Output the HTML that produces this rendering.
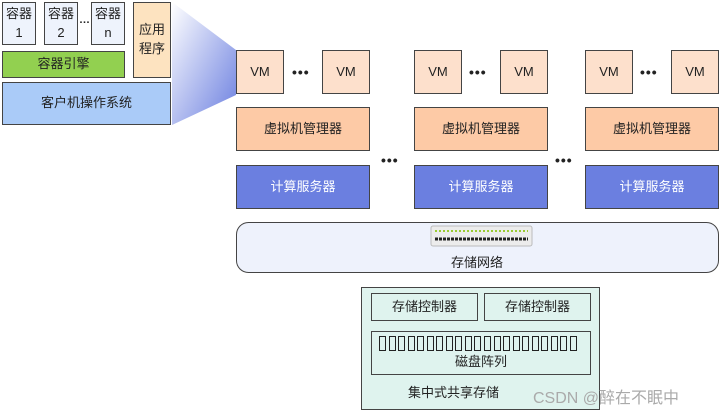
<!DOCTYPE html>
<html><head><meta charset="utf-8"><style>
body{margin:0;width:719px;height:410px;background:#fff;position:relative;overflow:hidden;font-family:"Liberation Sans","Noto Sans CJK SC",sans-serif;font-size:13px;color:#222}
.b{position:absolute;box-sizing:border-box;border:1px solid #444;display:flex;align-items:center;justify-content:center;text-align:center;line-height:1.45}
.vm{background:#fde0cc}.mg{background:#fdcaa6}.cs{background:#6b7fe0;color:#fff}
.dots{position:absolute;font-size:14px;font-weight:bold;letter-spacing:1px}
.row{position:absolute;left:379px;top:336px;width:198px;height:15px;display:flex;justify-content:space-between}
.row i{display:block;width:7px;height:15px;box-sizing:border-box;border:1px solid #222}
</style></head><body>
<div class="b" style="left:2px;top:2px;width:34px;height:43px;background:#eef3fc">容器<br>1</div>
<div class="b" style="left:44px;top:2px;width:34px;height:43px;background:#eef3fc">容器<br>2</div>
<div class="dots" style="left:79px;top:14px;font-size:11px">…</div>
<div class="b" style="left:91px;top:2px;width:34px;height:43px;background:#eef3fc">容器<br>n</div>
<div class="b" style="left:133px;top:2px;width:38px;height:76px;background:#fde3c0">应用<br>程序</div>
<div class="b" style="left:2px;top:51px;width:123px;height:27px;background:#92d050">容器引擎</div>
<div class="b" style="left:2px;top:82px;width:169px;height:43px;background:#aacbf8">客户机操作系统</div>
<svg style="position:absolute;left:0;top:0" width="719" height="410">
<defs><linearGradient id="g" x1="0" y1="0" x2="1" y2="1"><stop offset="0" stop-color="#fff"/><stop offset="1" stop-color="#6b7fe0"/></linearGradient></defs>
<polygon points="172,2 236,50 236,95 172,125" fill="url(#g)"/>
<rect x="236.5" y="222.5" width="482" height="50" rx="12" fill="#eef2fc" stroke="#444"/>
<rect x="431" y="226" width="101" height="20" rx="2" fill="#ececec" stroke="#bbb"/>
<line x1="435" y1="231" x2="528" y2="231" stroke="#9c3" stroke-dasharray="2,2" stroke-width="2"/>
<line x1="435" y1="239" x2="528" y2="239" stroke="#222" stroke-dasharray="3,1" stroke-width="3"/>
</svg>
<div class="b vm" style="left:236px;top:50px;width:48px;height:44px">VM</div>
<div class="b vm" style="left:322px;top:50px;width:48px;height:44px">VM</div>
<div class="b vm" style="left:414px;top:50px;width:48px;height:44px">VM</div>
<div class="b vm" style="left:500px;top:50px;width:48px;height:44px">VM</div>
<div class="b vm" style="left:585px;top:50px;width:48px;height:44px">VM</div>
<div class="b vm" style="left:671px;top:50px;width:48px;height:44px">VM</div>
<div class="dots" style="left:292px;top:64px">•••</div>
<div class="dots" style="left:469px;top:64px">•••</div>
<div class="dots" style="left:640px;top:64px">•••</div>
<div class="b mg" style="left:236px;top:107px;width:134px;height:44px">虚拟机管理器</div>
<div class="b mg" style="left:414px;top:107px;width:134px;height:44px">虚拟机管理器</div>
<div class="b mg" style="left:585px;top:107px;width:134px;height:44px">虚拟机管理器</div>
<div class="dots" style="left:381px;top:152px">•••</div>
<div class="dots" style="left:555px;top:152px">•••</div>
<div class="b cs" style="left:236px;top:165px;width:134px;height:44px">计算服务器</div>
<div class="b cs" style="left:414px;top:165px;width:134px;height:44px">计算服务器</div>
<div class="b cs" style="left:585px;top:165px;width:134px;height:44px">计算服务器</div>
<div style="position:absolute;left:236px;width:482px;top:252px;text-align:center">存储网络</div>
<div class="b" style="left:361px;top:287px;width:239px;height:123px;background:#dff3ee;align-items:flex-end;padding-bottom:6px;justify-content:flex-start;padding-left:46px">集中式共享存储</div>
<div class="b" style="left:371px;top:293px;width:107px;height:28px;background:#dff3ee">存储控制器</div>
<div class="b" style="left:484px;top:293px;width:107px;height:28px;background:#dff3ee">存储控制器</div>
<div class="b" style="left:371px;top:331px;width:220px;height:44px;background:#dff3ee;align-items:flex-end;padding-bottom:4px;line-height:1.2">磁盘阵列</div>
<div class="row"><i></i><i></i><i></i><i></i><i></i><i></i><i></i><i></i><i></i><i></i><i></i><i></i><i></i><i></i><i></i><i></i><i></i><i></i><i></i><i></i><i></i></div>
<div style="position:absolute;left:533px;top:384px;font-size:16px;color:#aaa">CSDN @醉在不眠中</div>
</body></html>
